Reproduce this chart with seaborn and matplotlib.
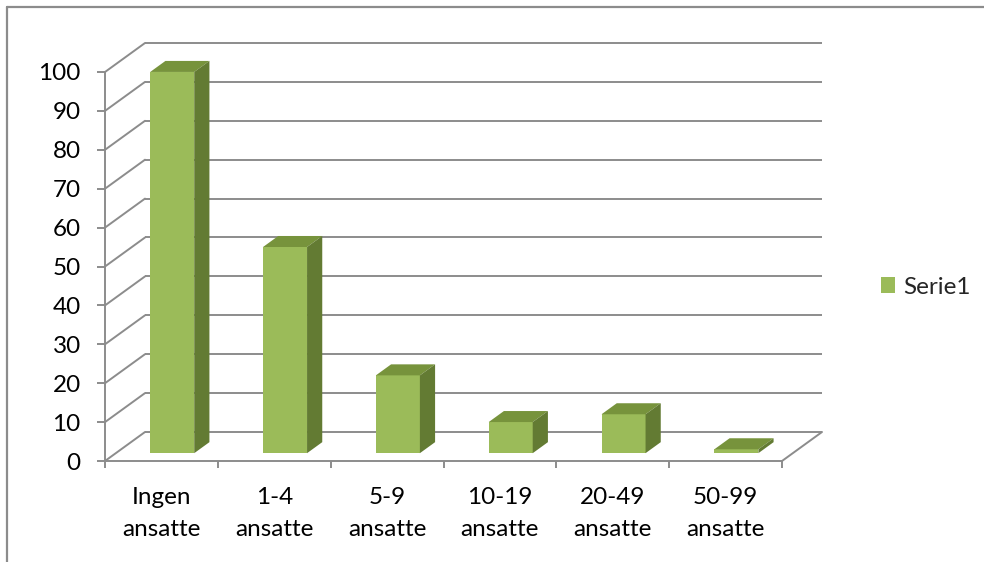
import matplotlib
matplotlib.use("Agg")
import matplotlib.pyplot as plt
import seaborn as sns
import pandas as pd
import numpy as np
from matplotlib.patches import Polygon
from matplotlib.lines import Line2D

# ---- data ----
categories = ["Ingen\nansatte", "1-4\nansatte", "5-9\nansatte", "10-19\nansatte", "20-49\nansatte", "50-99\nansatte"]
values = [98, 53, 20, 8, 10, 1]
series_name = "Serie1"
y_ticks = list(range(0, 101, 10))

df = pd.DataFrame({"cat": categories, "val": values})

sns.set_theme(style="white")
plt.rcParams["font.family"] = ["Lato", "DejaVu Sans"]

W, H = 984, 562
fig = plt.figure(figsize=(W / 100, H / 100), dpi=100)
# front plane: x px 105..782, y px 461 (0) .. 72 (100)
ax = fig.add_axes([105 / W, (H - 461) / H, 677 / W, 389 / H])
n = len(categories)
ax.set_xlim(-0.5, n - 0.5)
ax.set_ylim(0, 100)

grid_c = "#8C8C8C"
front_c = "#9BBB59"
top_c = "#77933C"
side_c = "#637B33"
fs = 17.5

# depth of the floor in data units
DX = 40 / 677 * n
DY = 29 / 389 * 100

# back-wall gridlines and diagonal connectors
for t in y_ticks:
    ax.plot([-0.5 + DX, n - 0.5 + DX], [t + DY, t + DY], color=grid_c, lw=1.4,
            clip_on=False, zorder=1, solid_capstyle="butt")
    ax.plot([-0.5, -0.5 + DX], [t, t + DY], color=grid_c, lw=1.4, clip_on=False, zorder=1)
# floor right edge
ax.plot([n - 0.5, n - 0.5 + DX], [0, DY], color=grid_c, lw=1.4, clip_on=False, zorder=1)

# front faces via seaborn
bar_w = 0.39
sns.barplot(data=df, x="cat", y="val", color=front_c, width=bar_w, saturation=1,
            label=series_name, ax=ax, zorder=3)

fd = 0.27   # depth position of bar front face
bd = 0.38   # bar depth (fraction of floor depth)
ox, oy = fd * DX, fd * DY
bdx, bdy = bd * DX, bd * DY
for p, v in zip(ax.patches, values):
    p.set_x(p.get_x() + ox)
    p.set_y(oy)
    p.set_edgecolor("none")
    p.set_clip_on(False)
    x0 = p.get_x()
    x1 = x0 + p.get_width()
    top = v + oy
    ax.add_patch(Polygon([(x0, top), (x1, top), (x1 + bdx, top + bdy), (x0 + bdx, top + bdy)],
                         closed=True, facecolor=top_c, edgecolor="none", zorder=3, clip_on=False))
    ax.add_patch(Polygon([(x1, oy), (x1, top), (x1 + bdx, top + bdy), (x1 + bdx, oy + bdy)],
                         closed=True, facecolor=side_c, edgecolor="none", zorder=3, clip_on=False))

# spines = front axes
for s in ["top", "right"]:
    ax.spines[s].set_visible(False)
for s in ["left", "bottom"]:
    ax.spines[s].set_color(grid_c)
    ax.spines[s].set_linewidth(1.4)
    ax.spines[s].set_zorder(2)

ax.set_yticks(y_ticks)
ax.set_yticklabels([str(t) for t in y_ticks])
ax.tick_params(axis="y", direction="out", length=5.5, width=1.4, color=grid_c,
               labelsize=fs, labelcolor="black", pad=12, left=True)

ax.set_xticks(np.arange(-0.5, n, 1.0))
ax.set_xticklabels([])
ax.tick_params(axis="x", which="major", direction="out", length=5, width=1.4, color=grid_c, bottom=True)
ax.set_xticks(np.arange(n), minor=True)
ax.set_xticklabels(categories, minor=True, fontsize=fs, linespacing=1.62)
ax.tick_params(axis="x", which="minor", length=0, pad=19, labelcolor="black")
ax.set_xlabel("")
ax.set_ylabel("")
ax.set_facecolor("none")

leg = ax.legend(loc="center left", bbox_to_anchor=(859 / W, 1 - 287 / H),
                bbox_transform=fig.transFigure, frameon=False, fontsize=fs,
                handlelength=0.6, handleheight=0.6, handletextpad=0.3)

# outer chart border (left and top)
fig.add_artist(Line2D([7 / W, 7 / W], [0, 1 - 7 / H], color=grid_c, lw=1.6, transform=fig.transFigure))
fig.add_artist(Line2D([7 / W, 1], [1 - 7 / H, 1 - 7 / H], color=grid_c, lw=1.6, transform=fig.transFigure))

fig.savefig("out.png", dpi=100)
